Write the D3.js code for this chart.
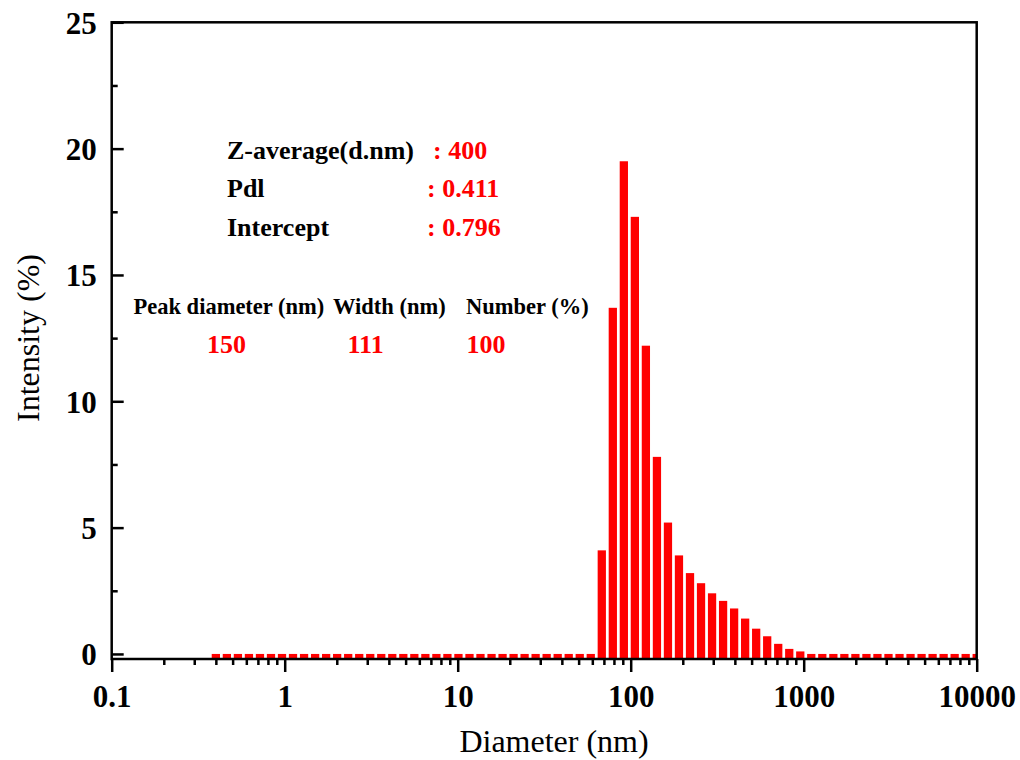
<!DOCTYPE html>
<html>
<head>
<meta charset="utf-8">
<script src="https://cdn.jsdelivr.net/npm/d3@7"></script>
<style>
  html, body { margin: 0; padding: 0; background: #fff; }
  svg { display: block; }
  text { font-family: "Liberation Serif", "Times New Roman", serif; }
</style>
</head>
<body>
<svg id="chart" width="1020" height="760"></svg>
<script>
// Size classes (nm) of the DLS intensity distribution
const sizes = [0.4, 0.4632, 0.5365, 0.6213, 0.7195, 0.8332, 0.9649, 1.117, 1.294, 1.499,
  1.736, 2.010, 2.328, 2.696, 3.122, 3.615, 4.187, 4.849, 5.615, 6.503,
  7.531, 8.721, 10.10, 11.70, 13.54, 15.69, 18.17, 21.04, 24.36, 28.21,
  32.67, 37.84, 43.82, 50.75, 58.77, 68.06, 78.82, 91.28, 105.7, 122.4,
  141.8, 164.2, 190.1, 220.2, 255.0, 295.3, 342.0, 396.1, 458.7, 531.2,
  615.1, 712.4, 825.0, 955.4, 1106, 1281, 1484, 1718, 1990, 2305,
  2669, 3091, 3580, 4145, 4801, 5560, 6439, 7456, 8635, 10000];

// Intensity (%) per size class
const intensity = [0, 0, 0, 0, 0, 0, 0, 0, 0, 0,
  0, 0, 0, 0, 0, 0, 0, 0, 0, 0,
  0, 0, 0, 0, 0, 0, 0, 0, 0, 0,
  0, 0, 0, 0, 0, 4.1, 13.7, 19.5, 17.3, 12.2,
  7.8, 5.2, 3.9, 3.2, 2.8, 2.4, 2.1, 1.8, 1.4, 1.0,
  0.7, 0.4, 0.2, 0.1, 0, 0, 0, 0, 0, 0,
  0, 0, 0, 0, 0, 0, 0, 0, 0, 0];

const xTickValues = [0.1, 1, 10, 100, 1000, 10000];
const xTickLabels = ["0.1", "1", "10", "100", "1000", "10000"];
const yTickValues = [0, 5, 10, 15, 20, 25];
const yTickLabels = ["0", "5", "10", "15", "20", "25"];

// Measurement summary
const summaryLabels = ["Z-average(d.nm)", "Pdl", "Intercept"];
const summaryValues = [": 400", ": 0.411", ": 0.796"];
const peakHeaders = ["Peak diameter (nm)", "Width (nm)", "Number (%)"];
const peakValues = ["150", "111", "100"];

const svg = d3.select("#chart");
const margin = { left: 111.7, top: 22.3, right: 1020 - 976.7, bottom: 760 - 659 };
const W = 1020 - margin.left - margin.right;
const H = 760 - margin.top - margin.bottom;
const yMin = -0.2;

const x = d3.scaleLog().domain([0.1, 10000]).range([0, W]);
const y = d3.scaleLinear().domain([yMin, 25]).range([H, 0]);

const g = svg.append("g").attr("transform", `translate(${margin.left},${margin.top})`);

g.append("clipPath").attr("id", "plotClip")
  .append("rect").attr("x", 0).attr("y", 0).attr("width", W).attr("height", H);

// Bars: each size class spans a fraction of its logarithmic bin
const binRatio = sizes[1] / sizes[0];
const fill = 0.75;
const data = sizes.map((d, i) => ({ d, v: intensity[i] }));

g.append("g").attr("clip-path", "url(#plotClip)")
  .selectAll("rect").data(data).join("rect")
  .attr("x", p => x(p.d / Math.pow(binRatio, fill / 2)))
  .attr("width", p => x(p.d * Math.pow(binRatio, fill / 2)) - x(p.d / Math.pow(binRatio, fill / 2)))
  .attr("y", p => y(p.v))
  .attr("height", p => y(yMin) - y(p.v))
  .attr("fill", "#ff0000");

// Bottom axis: decade ticks plus minor ticks, pointing outward
const minorX = [];
for (let e = -1; e < 4; e++) for (let k = 2; k <= 9; k++) minorX.push(k * Math.pow(10, e));

const xMinor = d3.axisBottom(x).tickValues(minorX).tickSize(6).tickFormat("");
const xMajor = d3.axisBottom(x).tickValues(xTickValues).tickSize(13)
  .tickFormat((d, i) => xTickLabels[i]);

const gxMinor = g.append("g").attr("transform", `translate(0,${H})`).call(xMinor);
const gxMajor = g.append("g").attr("transform", `translate(0,${H})`).call(xMajor);
[gxMinor, gxMajor].forEach(a => {
  a.select(".domain").remove();
  a.selectAll(".tick line").attr("stroke", "#000").attr("stroke-width", 2.5);
});
gxMajor.selectAll(".tick text")
  .attr("font-size", 31).attr("font-weight", "bold").attr("fill", "#000")
  .attr("dy", null).attr("y", 47.5);

// Left axis: major and minor ticks pointing inward
const minorY = [2.5, 7.5, 12.5, 17.5, 22.5];
const yMinorAx = d3.axisLeft(y).tickValues(minorY).tickSize(-6).tickFormat("");
const yMajorAx = d3.axisLeft(y).tickValues(yTickValues).tickSize(-12)
  .tickFormat((d, i) => yTickLabels[i]);
const gyMinor = g.append("g").call(yMinorAx);
const gyMajor = g.append("g").call(yMajorAx);
[gyMinor, gyMajor].forEach(a => {
  a.select(".domain").remove();
  a.selectAll(".tick line").attr("stroke", "#000").attr("stroke-width", 2.5);
});
gyMajor.selectAll(".tick text")
  .attr("font-size", 31).attr("font-weight", "bold").attr("fill", "#000")
  .attr("x", -15).attr("dy", "0.35em");

// Plot frame
g.append("rect").attr("x", 0).attr("y", 0).attr("width", W).attr("height", H)
  .attr("fill", "none").attr("stroke", "#000").attr("stroke-width", 2.5);

// Axis titles
svg.append("text").attr("x", 554).attr("y", 752).attr("text-anchor", "middle")
  .attr("font-size", 32).attr("fill", "#000").text("Diameter (nm)");
svg.append("text").attr("transform", "translate(39,338) rotate(-90)").attr("text-anchor", "middle")
  .attr("font-size", 32).attr("fill", "#000").text("Intensity (%)");

// Summary block
const summaryY = [159, 197, 236];
const summaryValueX = [433, 427, 427];
summaryLabels.forEach((t, i) => {
  svg.append("text").attr("x", 227).attr("y", summaryY[i])
    .attr("font-size", 26).attr("font-weight", "bold").attr("fill", "#000").text(t);
  svg.append("text").attr("x", summaryValueX[i]).attr("y", summaryY[i])
    .attr("font-size", 26).attr("font-weight", "bold").attr("fill", "#ff0000").text(summaryValues[i]);
});

// Peak table
const headerX = [133.5, 333, 466];
const valueX = [207, 347.5, 466.5];
peakHeaders.forEach((t, i) => {
  svg.append("text").attr("x", headerX[i]).attr("y", 313.5)
    .attr("font-size", 22.5).attr("font-weight", "bold").attr("fill", "#000").text(t);
  svg.append("text").attr("x", valueX[i]).attr("y", 352.5)
    .attr("font-size", 26).attr("font-weight", "bold").attr("fill", "#ff0000").text(peakValues[i]);
});
</script>
</body>
</html>
